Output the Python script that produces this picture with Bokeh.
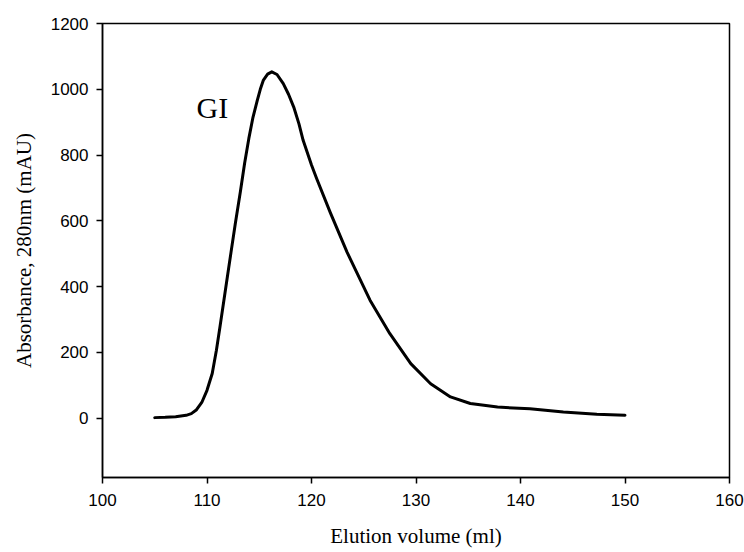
from bokeh.plotting import figure
from bokeh.models import Range1d, FixedTicker, Label
from bokeh.embed import file_html
from bokeh.resources import INLINE

# Elution profile
volume_ml = [105, 106, 107, 108, 108.5, 109, 109.5, 110, 110.5, 110.9, 111.25, 111.6,
             111.95, 112.3, 112.7, 113.2, 113.6, 114.0, 114.4, 114.8, 115.1, 115.4,
             115.8, 116.2, 116.7, 117.3, 117.8, 118.3, 118.8, 119.2, 120.0, 120.5,
             121.8, 123.4, 125.6, 127.5, 129.5, 131.4, 133.3, 135.2, 137.8, 140.9,
             144.1, 147.3, 150]
absorbance_mau = [2, 3, 5, 9, 14, 26, 48, 85, 136, 207, 280, 355,
                  430, 505, 590, 690, 775, 850, 915, 965, 1000, 1028,
                  1046, 1053, 1045, 1017, 985, 946, 895, 845, 770, 728,
                  625, 505, 359, 257, 166, 105, 65, 45, 34, 29,
                  19, 12, 9]

x_ticks = [100, 110, 120, 130, 140, 150, 160]
y_ticks = [0, 200, 400, 600, 800, 1000, 1200]
peak_label = "GI"

p = figure(width=744, height=552, output_backend="svg", toolbar_location=None,
           x_range=Range1d(100, 160), y_range=Range1d(-180, 1200),
           min_border_left=102, min_border_right=15, min_border_top=23,
           min_border_bottom=75)

p.background_fill_color = "white"
p.border_fill_color = "white"
p.outline_line_color = "black"
p.outline_line_width = 1.5
p.xgrid.visible = False
p.ygrid.visible = False

p.line(volume_ml, absorbance_mau, line_color="black", line_width=3,
       line_join="round", line_cap="round")

p.add_layout(Label(x=109.0, y=945, text=peak_label, text_font="Liberation Serif",
                   text_font_size="30px", text_color="black",
                   text_baseline="alphabetic", text_align="left"))

for ax in (p.xaxis[0], p.yaxis[0]):
    ax.axis_line_color = "black"
    ax.axis_line_width = 1.5
    ax.major_tick_line_color = "black"
    ax.major_tick_line_width = 1.5
    ax.major_tick_out = 6
    ax.major_tick_in = 0
    ax.minor_tick_line_color = None
    ax.major_label_text_font = "Liberation Sans"
    ax.major_label_text_font_size = "17px"
    ax.major_label_text_color = "black"
    ax.axis_label_text_font = "Liberation Serif"
    ax.axis_label_text_font_size = "21px"
    ax.axis_label_text_font_style = "normal"
    ax.axis_label_text_color = "black"

p.xaxis[0].ticker = FixedTicker(ticks=x_ticks)
p.yaxis[0].ticker = FixedTicker(ticks=y_ticks)
p.xaxis[0].axis_label = "Elution volume (ml)"
p.yaxis[0].axis_label = "Absorbance, 280nm (mAU)"
p.xaxis[0].major_label_standoff = 10
p.yaxis[0].major_label_standoff = 8
p.xaxis[0].axis_label_standoff = 15
p.yaxis[0].axis_label_standoff = 12

open("out.html", "w").write(file_html(p, INLINE))
